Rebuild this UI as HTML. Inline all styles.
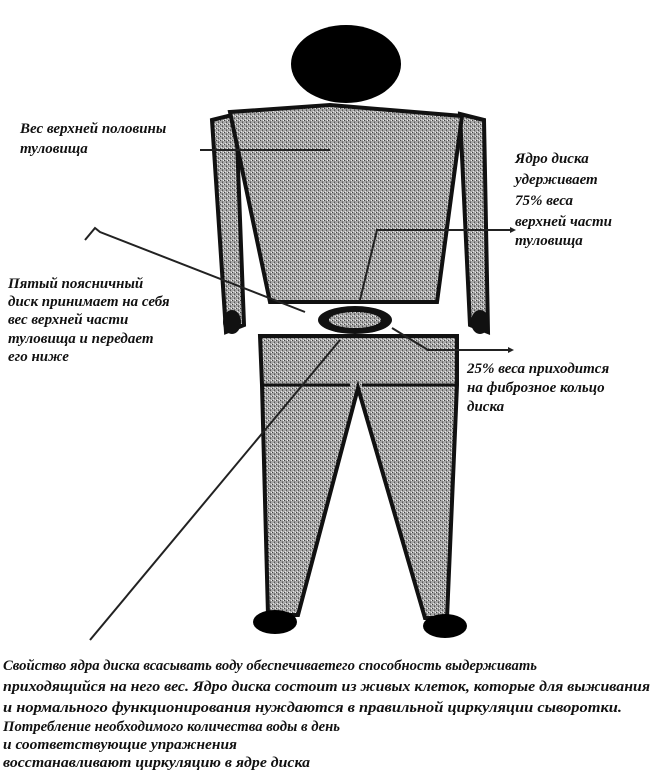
<!DOCTYPE html>
<html><head><meta charset="utf-8"><style>
body{margin:0;background:#fff;width:660px;height:770px;overflow:hidden}
svg text{font-family:"Liberation Serif",serif;font-style:italic;font-weight:bold;fill:#111}
</style></head><body>
<svg width="660" height="770" viewBox="0 0 660 770" xmlns="http://www.w3.org/2000/svg">
<defs>
<pattern id="g" width="4" height="4" patternUnits="userSpaceOnUse">
<rect width="4" height="4" fill="#a8a8a8"/><rect x="0" y="0" width="1" height="1" fill="#444"/><rect x="2" y="2" width="1" height="1" fill="#555"/><rect x="3" y="0" width="1" height="1" fill="#eee"/><rect x="1" y="3" width="1" height="1" fill="#e6e6e6"/><rect x="2" y="1" width="1" height="1" fill="#777"/>
</pattern>
</defs>
<path d="M212,120 L236,114 L244,325 L226,332 Z" fill="url(#g)" stroke="#111" stroke-width="4"/>
<path d="M460,114 L484,120 L488,332 L470,325 Z" fill="url(#g)" stroke="#111" stroke-width="4"/>
<ellipse cx="232" cy="322" rx="9" ry="12" fill="#111"/>
<ellipse cx="480" cy="322" rx="9" ry="12" fill="#111"/>
<path d="M230,112 L330,105 L462,116 L437,302 L270,302 Z" fill="url(#g)" stroke="#111" stroke-width="4"/>
<ellipse cx="346" cy="64" rx="55" ry="39" fill="#000"/>
<ellipse cx="355" cy="320" rx="37" ry="14" fill="#111"/>
<ellipse cx="355" cy="320" rx="26" ry="8" fill="url(#g)"/>
<path d="M260,336 L457,336 L457,385 L447,618 L425,618 L358,388 L298,615 L268,615 L262,385 Z" fill="url(#g)" stroke="#111" stroke-width="4"/>
<line x1="262" y1="385" x2="350" y2="385" stroke="#111" stroke-width="3"/>
<line x1="362" y1="385" x2="457" y2="385" stroke="#111" stroke-width="3"/>
<ellipse cx="275" cy="622" rx="22" ry="12" fill="#000"/>
<ellipse cx="445" cy="626" rx="22" ry="12" fill="#000"/>
<g stroke="#222" stroke-width="2" fill="none">
<line x1="200" y1="150" x2="330" y2="150"/>
<polyline points="85,240 95,228 100,232 305,312"/>
<line x1="340" y1="340" x2="90" y2="640"/>
<polyline points="360,300 377,230 510,230"/>
<polyline points="392,328 428,350 508,350"/>
</g>
<path d="M510,227 L516,230 L510,233Z M508,347 L514,350 L508,353Z" fill="#222"/>
<g font-size="15">
<text x="20" y="133">Вес верхней половины</text>
<text x="20" y="153">туловища</text>
<text x="515" y="163">Ядро диска</text>
<text x="515" y="184">удерживает</text>
<text x="515" y="205">75% веса</text>
<text x="515" y="226">верхней части</text>
<text x="515" y="245">туловища</text>
<text x="8" y="288">Пятый поясничный</text>
<text x="8" y="306">диск принимает на себя</text>
<text x="8" y="324">вес верхней части</text>
<text x="8" y="343">туловища и передает</text>
<text x="8" y="361">его ниже</text>
<text x="467" y="373">25% веса приходится</text>
<text x="467" y="392">на фиброзное кольцо</text>
<text x="467" y="411">диска</text>
</g>
<g font-size="15">
<text x="3" y="670" textLength="534" lengthAdjust="spacingAndGlyphs">Свойство ядра диска всасывать воду обеспечиваетего способность выдерживать</text>
<text x="3" y="691" textLength="647" lengthAdjust="spacingAndGlyphs">приходящийся на него вес. Ядро диска состоит из живых клеток, которые для выживания</text>
<text x="3" y="712" textLength="619" lengthAdjust="spacingAndGlyphs">и нормального функционирования нуждаются в правильной циркуляции сыворотки.</text>
<text x="3" y="731" textLength="337" lengthAdjust="spacingAndGlyphs">Потребление необходимого количества воды в день</text>
<text x="3" y="749" textLength="234" lengthAdjust="spacingAndGlyphs">и соответствующие упражнения</text>
<text x="3" y="767" textLength="307" lengthAdjust="spacingAndGlyphs">восстанавливают циркуляцию в ядре диска</text>
</g>
</svg>
</body></html>
